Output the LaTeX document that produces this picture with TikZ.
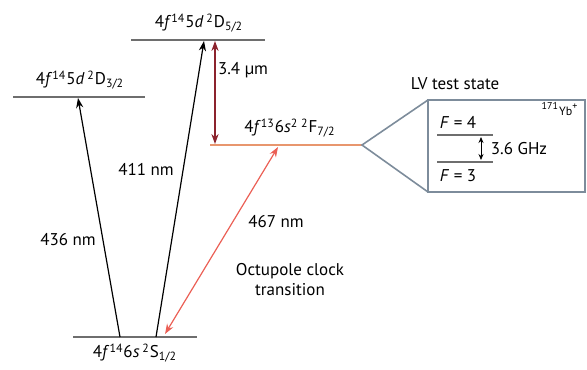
\documentclass[tikz,border=0pt]{standalone}
\usepackage{fontspec}
\setmainfont{PT Sans}
\usetikzlibrary{arrows.meta}
\definecolor{lvlgray}{RGB}{110,110,110}
\definecolor{forange}{RGB}{232,150,110}
\definecolor{darkred}{RGB}{140,35,45}
\definecolor{clockred}{RGB}{235,95,85}
\definecolor{boxgray}{RGB}{125,140,155}
\begin{document}
\begin{tikzpicture}[
  x=0.5pt, y=-0.5pt,
  level/.style={draw=lvlgray, line width=0.7pt},
  lbl/.style={inner sep=1pt, font=\fontsize{8.5}{10}\selectfont},
  trans/.style={line width=0.6pt, -{Stealth[length=5pt,width=3.6pt]}},
  both/.style={line width=0.6pt, {Stealth[length=5pt,width=3.6pt]}-{Stealth[length=5pt,width=3.6pt]}}
]
  \useasboundingbox (0,0) rectangle (587,369);

  % energy levels
  \coordinate (d5l) at (131,40);  \coordinate (d5r) at (265,40);
  \coordinate (d3l) at (13,97);   \coordinate (d3r) at (145,97);
  \coordinate (f7l) at (210,145); \coordinate (f7r) at (362,145);
  \coordinate (s1l) at (73,337);  \coordinate (s1r) at (197,337);
  \draw[level] (d5l) -- (d5r);
  \draw[level] (d3l) -- (d3r);
  \draw[level, draw=forange] (f7l) -- (f7r);
  \draw[level] (s1l) -- (s1r);

  \node[lbl] (d5) at (199,23) {4\textit{f}\textsuperscript{14}5\textit{d}\,\textsuperscript{2}D\textsubscript{5/2}};
  \node[lbl] (d3) at (80,80) {4\textit{f}\textsuperscript{14}5\textit{d}\,\textsuperscript{2}D\textsubscript{3/2}};
  \node[lbl] (f7) at (290,128) {4\textit{f}\textsuperscript{13}6\textit{s}\textsuperscript{2}\,\textsuperscript{2}F\textsubscript{7/2}};
  \node[lbl] (s1) at (135,353) {4\textit{f}\textsuperscript{14}6\textit{s}\,\textsuperscript{2}S\textsubscript{1/2}};

  % transitions
  \coordinate (a1) at (120,337); \coordinate (a2) at (78,98);
  \coordinate (b1) at (156,337); \coordinate (b2) at (204,41);
  \coordinate (c1) at (215,41);  \coordinate (c2) at (215,144);
  \coordinate (e1) at (165,334); \coordinate (e2) at (278,147);
  \draw[trans] (a1) -- (a2);
  \draw[trans] (b1) -- (b2);
  \draw[both, darkred] (c1) -- (c2);
  \draw[both, clockred] (e1) -- (e2);

  \node[lbl] (n436) at (68,240) {436 nm};
  \node[lbl] (n411) at (146,169) {411 nm};
  \node[lbl] (n34) at (243,70) {3.4 µm};
  \node[lbl] (n467) at (276,222) {467 nm};
  \node[lbl, align=center] (oct) at (290,280) {Octupole clock\\transition};

  % LV test state inset
  \node[lbl] (lv) at (455,84) {LV test state};
  \coordinate (tip) at (362,145);
  \coordinate (bxa) at (428,100); \coordinate (bxb) at (585,192);
  \coordinate (bxc) at (428,192);
  \draw[boxgray, line width=0.8pt] (bxa) rectangle (bxb);
  \draw[boxgray, line width=0.8pt] (bxa) -- (tip) -- (bxc);

  \coordinate (f4l) at (437,135); \coordinate (f4r) at (493,135);
  \coordinate (f3l) at (437,162); \coordinate (f3r) at (493,162);
  \draw[level, line width=0.6pt] (f4l) -- (f4r);
  \draw[level, line width=0.6pt] (f3l) -- (f3r);
  \coordinate (g1) at (481,137); \coordinate (g2) at (481,160);
  \draw[line width=0.4pt, {Stealth[length=3pt,width=2.5pt]}-{Stealth[length=3pt,width=2.5pt]}] (g1) -- (g2);
  \node[lbl] (fup) at (458,122) {\textit{F} = 4};
  \node[lbl] (fdn) at (458,176) {\textit{F} = 3};
  \node[lbl] (ghz) at (519,149) {3.6 GHz};
  \node[lbl, font=\fontsize{6}{7}\selectfont] (yb) at (560,109) {\textsuperscript{171}Yb\textsuperscript{+}};
\end{tikzpicture}
\end{document}
